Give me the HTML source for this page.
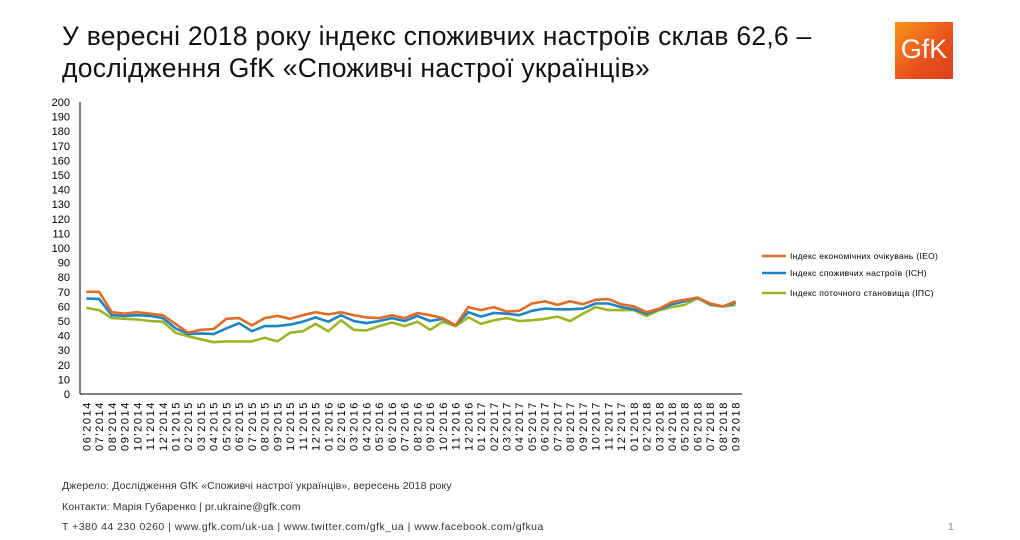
<!DOCTYPE html>
<html><head><meta charset="utf-8"><style>
body{margin:0;background:#fff;width:1020px;height:540px;overflow:hidden;font-family:"Liberation Sans",sans-serif;}
.t{position:absolute;left:62px;top:20px;font-size:26.5px;line-height:32px;color:#111;letter-spacing:0.25px;}
.f{position:absolute;left:62px;font-size:10.5px;color:#333;letter-spacing:0.12px;}
</style></head><body>
<div class="t">У вересні 2018 року індекс споживчих настроїв склав 62,6 –<br>дослідження GfK «Споживчі настрої українців»</div>
<div style="position:absolute;left:895px;top:22px;width:58px;height:57px;background:linear-gradient(135deg,#f7941d,#e8501c 60%,#d9401a);"></div>
<div style="position:absolute;left:895px;top:34px;width:58px;text-align:center;color:#fff;font-size:27px;">GfK</div>
<svg id="s" width="1020" height="540" style="position:absolute;left:0;top:0" font-family="Liberation Sans, sans-serif"></svg>
<div class="f" style="top:480px">Джерело: Дослідження GfK «Споживчі настрої українців», вересень 2018 року</div>
<div class="f" style="top:501px">Контакти: Марія Губаренко | pr.ukraine@gfk.com</div>
<div class="f" style="top:521px;letter-spacing:0.48px">T +380 44 230 0260 | www.gfk.com/uk-ua | www.twitter.com/gfk_ua | www.facebook.com/gfkua</div>
<div class="f" style="top:521px;left:948px;color:#888">1</div>
<script>
var A=[[70,65.5,59],[70,65,57.5],[56,54,52],[55,53.5,51.5],[56,54,51],[55,53.5,50],[54,52,49.5],[48,45,42],[42,41,39.5],[44,41.5,37.5],[44.5,41,35.5],[51.5,45,36],[52,48.5,36],[47,43,36],[52,46.5,38.5],[53.5,46.5,36],[51.5,47.5,42],[54,49.5,43],[56,52.5,48],[54.5,49.5,43],[56,54,50.5],[54,50,44],[52.5,48.5,43.5],[52,50,46.5],[54,52,49],[52,50,46.5],[55.5,53.5,49.5],[54,50,44],[52,51.5,49.5],[47,47,46.5],[59.5,56,52.5],[57.5,53,48],[59.5,55.5,50.5],[56.5,55,52],[57,54,50],[62,57,50.5],[63.5,58.5,51.5],[61,58,53],[63.5,58,50],[61.5,58.5,55],[64.5,62,59.5],[65,62,57.5],[61.5,59.5,57.5],[60,58,57.5],[56,55,53.5],[58.5,58,57.5],[63,61.5,59.5],[64.5,63.5,61],[66,66,65.5],[62,61.5,61],[60,60,60],[63.5,62.5,61]];
var s='',x0=80,x1=742,y0=394,k=1.46,w=(x1-x0)/52;
s+='<line x1="80" y1="102" x2="80" y2="394" stroke="#000"/><line x1="80" y1="394" x2="742" y2="394" stroke="#000"/>';
for(var v=0;v<=200;v+=10){s+='<text x="70" y="'+(y0-v*k+4)+'" font-size="11" text-anchor="end">'+v+'</text>';}
var cols=['#e06c2a','#1d86c1','#9cb527'];
for(var j=2;j>=0;j--){var p=A.map(function(r,i){return (x0+w*(i+.5)).toFixed(1)+','+(y0-r[j]*k).toFixed(1)}).join(' ');s+='<polyline points="'+p+'" fill="none" stroke="'+cols[j]+'" stroke-width="2.6" stroke-linejoin="round"/>';}
for(var i=0;i<52;i++){var m=(i+5)%12+1,y=2014+Math.floor((i+5)/12);var l=(m<10?'0':'')+m+"'"+y;var x=x0+w*(i+.5)+4;s+='<text transform="translate('+x.toFixed(1)+',401) rotate(-90)" font-size="11" letter-spacing="1.6" text-anchor="end">'+l+'</text>';}
var L=['Індекс економічних очікувань (IEO)','Індекс споживчих настроїв (ІСН)','Індекс поточного становища (ІПС)'],Y=[256,273,293];
for(var j=0;j<3;j++){s+='<line x1="762" x2="786" y1="'+Y[j]+'" y2="'+Y[j]+'" stroke="'+cols[j]+'" stroke-width="2.6"/><text x="790" y="'+(Y[j]+3)+'" font-size="8.5" letter-spacing="0.3">'+L[j]+'</text>';}
document.getElementById('s').innerHTML=s;
</script>
</body></html>
